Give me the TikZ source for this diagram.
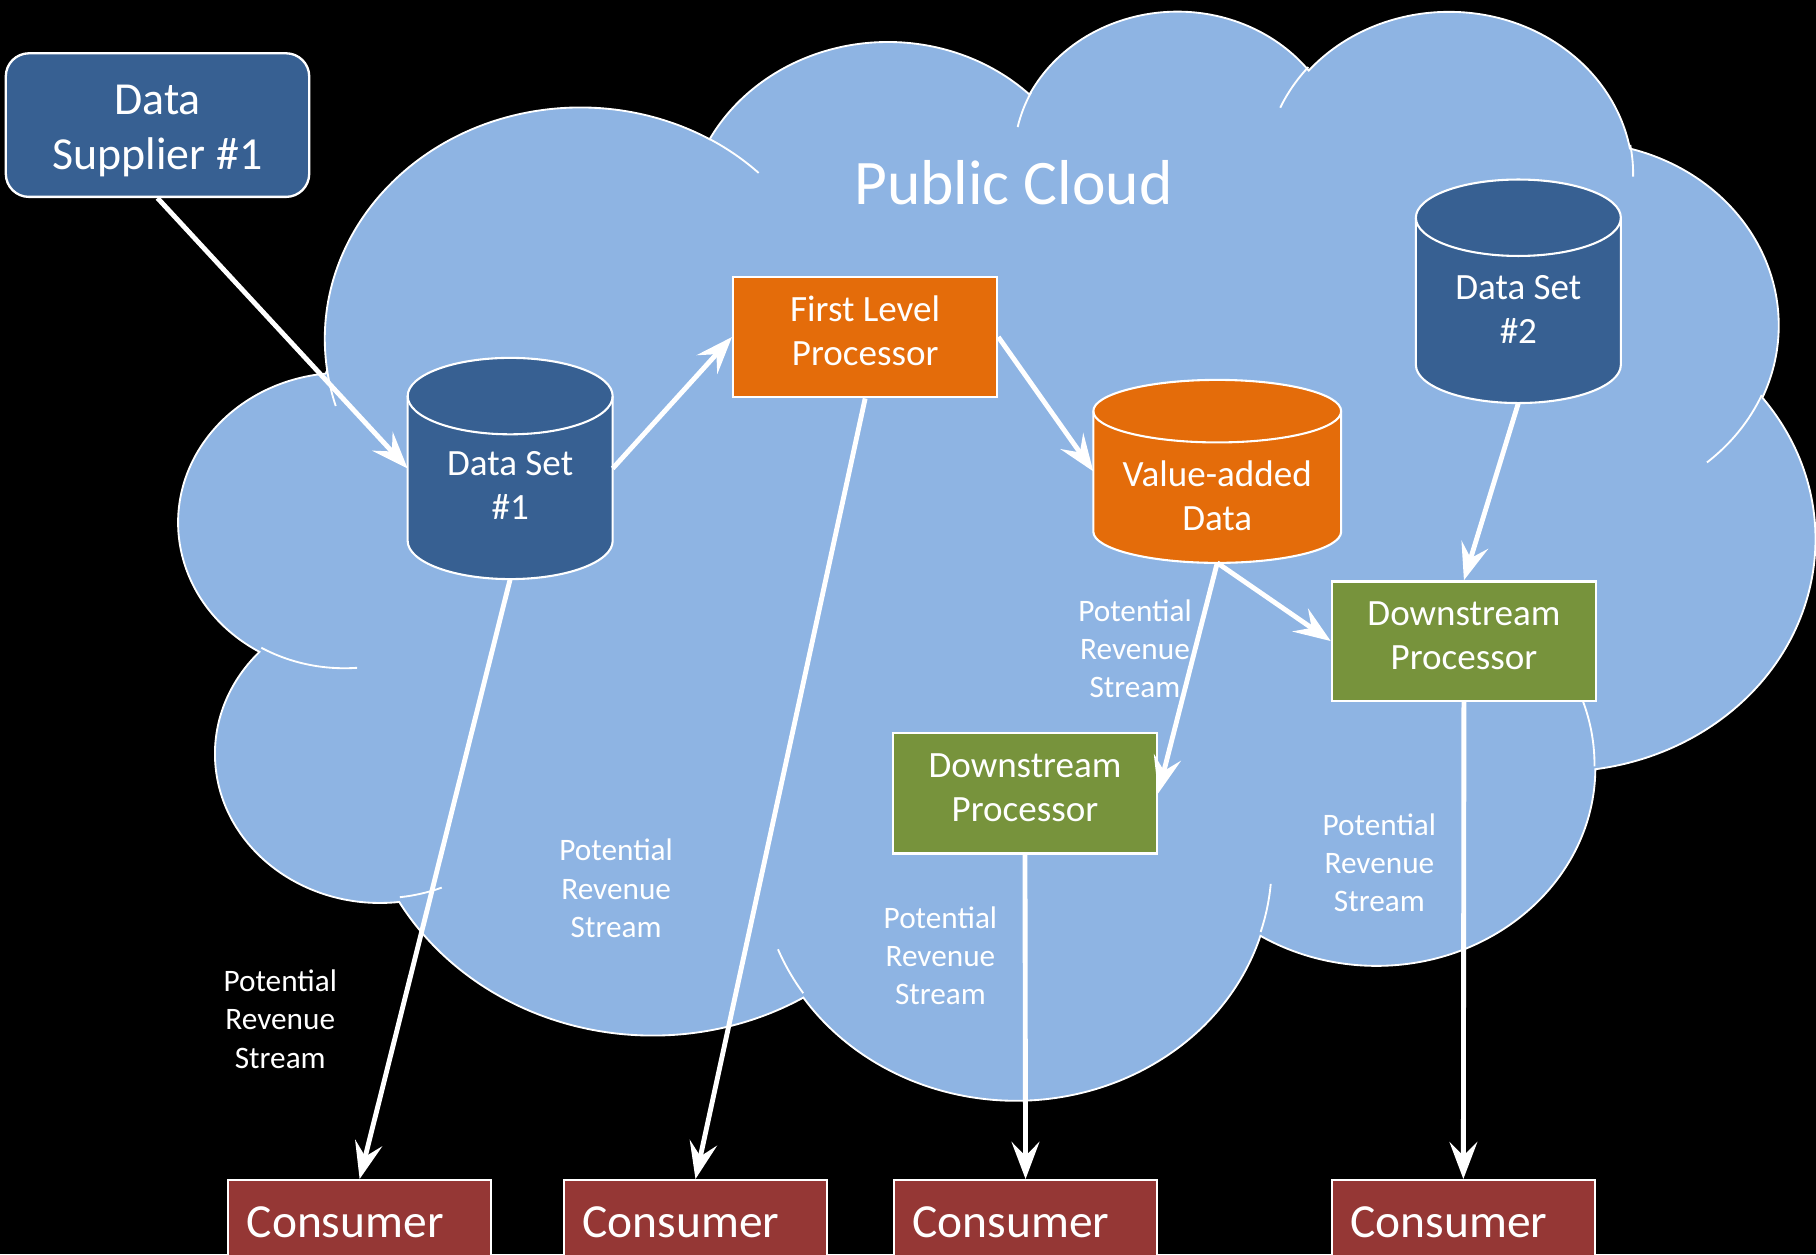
\documentclass[tikz,border=0pt]{standalone}
\usepackage{fontspec}
\setmainfont{Carlito}
\usetikzlibrary{arrows.meta,calc}
\definecolor{cloudblue}{HTML}{8EB4E3}
\definecolor{darkblue}{HTML}{376092}
\definecolor{orangeb}{HTML}{E46C0A}
\definecolor{greenb}{HTML}{77933C}
\definecolor{redb}{HTML}{953735}
% cx, cy, rx, half height, ry, fill
\newcommand\drawcyl[6]{%
  \path[draw=white, line width=0.9pt, fill=#6]
    ({#1-#3},{#2-#4+#5}) -- ({#1-#3},{#2+#4-#5})
    arc[start angle=180, end angle=0, x radius=#3, y radius=#5]
    -- ({#1+#3},{#2-#4+#5})
    arc[start angle=0, end angle=-180, x radius=#3, y radius=#5] -- cycle;
  \draw[white, line width=0.9pt] ({#1+#3},{#2-#4+#5})
    arc[start angle=0, end angle=180, x radius=#3, y radius=#5];
}
\begin{document}
\begin{tikzpicture}[x=0.5pt,y=-0.5pt,
  cloudline/.style={draw=white, line width=0.8pt},
  procbox/.style={draw=white, line width=1pt, minimum width=114pt, minimum height=52pt,
    inner sep=0pt},
  boxtext/.style={align=center, text=white, inner sep=0pt, font=\fontsize{16}{19}\selectfont},
  cylanchor/.style={inner sep=0pt, outer sep=0pt},
  consbox/.style={draw=white, line width=1pt, fill=redb, text=white,
    font=\fontsize{20.5}{24}\selectfont, text width=97.5pt, align=left,
    inner xsep=8pt, inner ysep=0pt, minimum height=36pt},
  potlabel/.style={align=center, text=white, inner sep=0pt, font=\fontsize{13.5}{16.5}\selectfont},
  arr/.style={draw=white, line width=2.1pt, -{Stealth[length=16pt,width=12pt,inset=6pt]}}
]
\fill[black] (0,0) rectangle (1568,1083);
\useasboundingbox (0,0) rectangle (1568,1083);
\clip (0,0) rectangle (1568,1083);

% ---------- cloud ----------
\begin{scope}[shift={(155,7)}]
\begin{scope}[x=0.163425pt, y=-0.108795pt]
\path[fill=cloudblue, cloudline] (390,1437)
  arc[start angle=-187.747, end angle=-59.636, x radius=675.3, y radius=919.0]
  arc[start angle=-152.025, end angle=-45.461, x radius=533.3, y radius=726.7]
  arc[start angle=-153.491, end angle=-37.344, x radius=436.5, y radius=594.5]
  arc[start angle=-139.72,  end angle=-10.211, x radius=485.7, y radius=659.5]
  arc[start angle=-74.768,  end angle=23.213,  x radius=533.3, y radius=727.3]
  arc[start angle=-37.539,  end angle=81.862,  x radius=677.5, y radius=922.0]
  arc[start angle=0.4597,   end angle=121.979, x radius=578.5, y radius=786.7]
  arc[start angle=16.843,   end angle=146.230, x radius=675.2, y radius=921.5]
  arc[start angle=58.986,   end angle=150.195, x radius=772.0, y radius=1054.3]
  arc[start angle=-276.694, end angle=-136.887, x radius=436.0, y radius=591.8]
  arc[start angle=-239.655, end angle=-95.888, x radius=434.5, y radius=594.5]
  -- cycle;
\draw[cloudline]
  (469.3,2617.7) arc[start angle=85.546, end angle=120.345, x radius=434.5, y radius=594.5]
  (692.8,3489.9) arc[start angle=68.234, end angle=83.306, x radius=436.0, y radius=591.8]
  (1647.8,3909.0) arc[start angle=146.230, end angle=158.473, x radius=675.2, y radius=921.5]
  (2882.7,3475.1) arc[start angle=4.738, end angle=16.843, x radius=675.2, y radius=921.5]
  (3412.9,2295.4) arc[start angle=-64.023, end angle=0.4597, x radius=578.5, y radius=786.7]
  (4179.8,1535.4) arc[start angle=23.213, end angle=49.633, x radius=533.3, y radius=727.3]
  (3832.4,542.6) arc[start angle=-10.211, end angle=0.821, x radius=485.7, y radius=659.5]
  (2907.8,395.2) arc[start angle=-156.294, end angle=-139.72, x radius=485.7, y radius=659.5]
  (2214.1,472.0) arc[start angle=-167.726, end angle=-153.491, x radius=436.5, y radius=594.5]
  (1400.0,519.2) arc[start angle=-59.636, end angle=-45.741, x radius=675.3, y radius=919.0]
  (412.7,1578.9) arc[start angle=163.194, end angle=172.253, x radius=675.3, y radius=919.0];
\end{scope}
\end{scope}

\node[text=white, font=\fontsize{27.4}{33}\selectfont, inner sep=0pt] (title) at (875,158) {Public Cloud};

% ---------- nodes ----------
\node[draw=white, line width=1pt, fill=darkblue, rounded corners=10pt, minimum width=131pt,
  minimum height=62pt, inner sep=0pt] (sup) at (136,108) {};
\node[boxtext, font=\fontsize{19.8}{24}\selectfont] (supt) at (136,113) {Data\\Supplier \#1};

\drawcyl{440.5}{404.5}{88.5}{95.5}{33}{darkblue}
\node[cylanchor, minimum width=88.5pt, minimum height=95.5pt] (ds1) at (440.5,404.5) {};
\node[boxtext] (ds1t) at (440.5,419) {Data Set\\\#1};

\drawcyl{1051}{407}{107}{79}{27}{orangeb}
\node[cylanchor, minimum width=107pt, minimum height=79pt] (val) at (1051,407) {};
\node[boxtext] (valt) at (1051,428) {Value-added\\Data};

\drawcyl{1311}{251.5}{88.5}{96.5}{33}{darkblue}
\node[cylanchor, minimum width=88.5pt, minimum height=96.5pt] (ds2) at (1311,251.5) {};
\node[boxtext] (ds2t) at (1311,267) {Data Set\\\#2};

\node[procbox, fill=orangeb] (flp) at (747,291) {};
\node[boxtext] (flpt) at (747,286) {First Level\\Processor};
\node[procbox, fill=greenb, minimum height=51.5pt] (dsr) at (1264,553.5) {};
\node[boxtext] (dsrt) at (1264,548.5) {Downstream\\Processor};
\node[procbox, fill=greenb] (dsm) at (885,685) {};
\node[boxtext] (dsmt) at (885,680) {Downstream\\Processor};

\node[consbox] (c1) at (310.5,1055) {Consumer};
\node[consbox] (c2) at (600.5,1055) {Consumer};
\node[consbox] (c3) at (885.5,1055) {Consumer};
\node[consbox] (c4) at (1263.5,1055) {Consumer};

% ---------- labels ----------
\node[potlabel] (p1) at (242,880) {Potential\\Revenue\\Stream};
\node[potlabel] (p2) at (532,767) {Potential\\Revenue\\Stream};
\node[potlabel] (p3) at (980,560) {Potential\\Revenue\\Stream};
\node[potlabel] (p4) at (812,825) {Potential\\Revenue\\Stream};
\node[potlabel] (p5) at (1191,745) {Potential\\Revenue\\Stream};

% ---------- arrows ----------
\draw[arr] (sup.south) -- (ds1.west);
\draw[arr] (ds1.east) -- (flp.west);
\draw[arr] (flp.east) -- (val.west);
\draw[arr] (flp.south) -- (c2.north);
\draw[arr] (ds1.south) -- (c1.north);
\draw[arr] (val.south) -- (dsm.east);
\draw[arr] (val.south) -- (dsr.west);
\draw[arr] (ds2.south) -- (dsr.north);
\draw[arr] (dsm.south) -- (c3.north);
\draw[arr] (dsr.south) -- (c4.north);
\end{tikzpicture}
\end{document}
